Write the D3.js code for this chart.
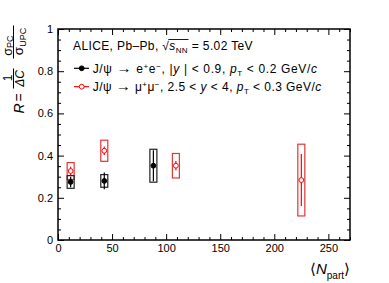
<!doctype html>
<html lang="en">
<head>
    <meta charset="utf-8"/>
    <title>R vs Npart</title>
    <style>
        body { margin: 0; background: #fff; }
        svg { display: block; font-family: "Liberation Sans", Arial, sans-serif; }
    </style>
</head>
<body>
    <svg id="chart" width="389" height="283"></svg>
    <script src="https://cdn.jsdelivr.net/npm/d3@7/dist/d3.min.js"></script>
    <script>
        // J/psi -> e+e- (midrapidity)
        const npartEE = [11.7, 42.8, 88.2];
        const rEE = [0.275, 0.28, 0.352];
        const statEE = [0.025, 0.04, 0.073];
        const systEE = [0.03, 0.03, 0.078];

        // J/psi -> mu+mu- (forward)
        const npartMM = [11.7, 42.8, 109, 225];
        const rMM = [0.327, 0.423, 0.352, 0.284];
        const statMM = [0.02, 0.02, 0.022, 0.123];
        const systMM = [0.04, 0.05, 0.058, 0.17];

        const xTicks = [0, 50, 100, 150, 200, 250];
        const xTickLabels = ["0", "50", "100", "150", "200", "250"];
        const yTicks = [0, 0.2, 0.4, 0.6, 0.8, 1];
        const yTickLabels = ["0", "0.2", "0.4", "0.6", "0.8", "1"];

        const svg = d3.select("#chart");
        const x = d3.scaleLinear().domain([0, 270]).range([58, 350]);
        const y = d3.scaleLinear().domain([0, 1]).range([240, 29]);

        const RED = "#f00";
        const REDBOX = "#e23636";
        const BLACKBOX = "#222";

        // --- axes (ticks pointing inward, ROOT style) ---
        function xMinor() { return d3.range(0, 271, 10).filter(d => d % 50 !== 0); }
        function yMinor() { return d3.range(0, 1.0001, 0.05).filter(d => Math.abs(d * 5 - Math.round(d * 5)) > 1e-6); }

        const axisFont = 11;
        svg.append("g").attr("transform", `translate(0,${y(0)})`)
            .call(d3.axisBottom(x).tickValues(xTicks).tickSize(-6).tickPadding(4)
                .tickFormat((d, i) => xTickLabels[i]));
        svg.append("g").attr("transform", `translate(0,${y(0)})`)
            .call(d3.axisBottom(x).tickValues(xMinor()).tickSize(-3).tickFormat(""));
        svg.append("g").attr("transform", `translate(0,${y(1)})`)
            .call(d3.axisTop(x).tickValues(xTicks).tickSize(-6).tickFormat(""));
        svg.append("g").attr("transform", `translate(0,${y(1)})`)
            .call(d3.axisTop(x).tickValues(xMinor()).tickSize(-3).tickFormat(""));

        svg.append("g").attr("transform", `translate(${x(0)},0)`)
            .call(d3.axisLeft(y).tickValues(yTicks).tickSize(-6).tickPadding(5)
                .tickFormat((d, i) => yTickLabels[i]));
        svg.append("g").attr("transform", `translate(${x(0)},0)`)
            .call(d3.axisLeft(y).tickValues(yMinor()).tickSize(-3).tickFormat(""));
        svg.append("g").attr("transform", `translate(${x(270)},0)`)
            .call(d3.axisRight(y).tickValues(yTicks).tickSize(-6).tickFormat(""));
        svg.append("g").attr("transform", `translate(${x(270)},0)`)
            .call(d3.axisRight(y).tickValues(yMinor()).tickSize(-3).tickFormat(""));

        svg.selectAll(".domain").remove();
        svg.selectAll(".tick line").attr("stroke", "#000").attr("stroke-width", 1);
        svg.selectAll(".tick text").attr("font-family", "Liberation Sans, Arial, sans-serif")
            .attr("font-size", axisFont).attr("fill", "#000");

        svg.append("rect")
            .attr("x", x(0)).attr("y", y(1))
            .attr("width", x(270) - x(0)).attr("height", y(0) - y(1))
            .attr("fill", "none").attr("stroke", "#000").attr("stroke-width", 1.5);

        // --- data ---
        const boxHalf = 3.5;
        function drawSeries(npart, r, stat, syst, boxColor, lineColor, open) {
            const g = svg.append("g");
            const data = npart.map((n, i) => ({n, r: r[i], stat: stat[i], syst: syst[i]}));
            g.selectAll("rect.syst").data(data).enter().append("rect")
                .attr("x", d => x(d.n) - boxHalf)
                .attr("y", d => y(d.r + d.syst))
                .attr("width", boxHalf * 2)
                .attr("height", d => y(d.r - d.syst) - y(d.r + d.syst))
                .attr("fill", "none").attr("stroke", boxColor).attr("stroke-width", 1.2);
            g.selectAll("line.stat").data(data).enter().append("line")
                .attr("x1", d => x(d.n)).attr("x2", d => x(d.n))
                .attr("y1", d => y(d.r + d.stat)).attr("y2", d => y(d.r - d.stat))
                .attr("stroke", lineColor).attr("stroke-width", 1.2);
            g.selectAll("circle").data(data).enter().append("circle")
                .attr("cx", d => x(d.n)).attr("cy", d => y(d.r))
                .attr("r", 2.4)
                .attr("fill", open ? "#fff" : lineColor)
                .attr("stroke", lineColor).attr("stroke-width", 1);
        }
        drawSeries(npartMM, rMM, statMM, systMM, REDBOX, RED, true);
        drawSeries(npartEE, rEE, statEE, systEE, BLACKBOX, "#000", false);

        // --- helper for rich text ---
        function rich(parent, xPos, yPos, parts, size, anchor) {
            const t = parent.append("text").attr("x", xPos).attr("y", yPos)
                .attr("font-size", size).attr("fill", "#000")
                .attr("text-anchor", anchor || "start");
            let shift = 0;
            parts.forEach(p => {
                const s = p.s || 0;
                const ts = t.append("tspan").text(p.t);
                if (s !== shift) ts.attr("dy", s - shift);
                shift = s;
                if (p.i) ts.attr("font-style", "italic");
                if (p.f) ts.attr("font-size", p.f);
            });
            return t;
        }
        // stretch letter spacing so a line spans the given width
        function fitWidth(t, width) {
            const node = t.node();
            const len = node.getComputedTextLength();
            const n = node.textContent.length;
            t.attr("letter-spacing", ((width - len) / n).toFixed(3));
        }

        // --- legend ---
        const lx = 73;
        const head = rich(svg, lx, 50, [
            {t: "ALICE, Pb\u2013Pb, "},
            {t: "\u221A"},
            {t: "s", i: true},
            {t: "NN", f: 8, s: 3},
            {t: " = 5.02 TeV", s: 0}
        ], 12);
        fitWidth(head, 180);
        // overline for the square root
        {
            const node = head.node();
            const txt = node.textContent;
            const i0 = txt.indexOf("\u221A");
            const a = node.getEndPositionOfChar(i0).x - 1;
            const b = node.getEndPositionOfChar(i0 + 3).x + 0.5;
            svg.append("line").attr("x1", a).attr("x2", b)
                .attr("y1", 39.5).attr("y2", 39.5)
                .attr("stroke", "#000").attr("stroke-width", 0.9);
        }

        const rows = [
            {y: 68.3, color: "#000", open: false, w: 225, parts: [
                {t: "J/\u03C8 "}, {t: "\u2192", f: 15}, {t: " e"}, {t: "+", f: 8, s: -4}, {t: "e", s: 0}, {t: "\u2212", f: 8, s: -4},
                {t: ", |", s: 0}, {t: "y", i: true}, {t: " | < 0.9, "}, {t: "p", i: true},
                {t: "T", f: 8, s: 3}, {t: " < 0.2 GeV/", s: 0}, {t: "c", i: true}
            ]},
            {y: 86.7, color: RED, open: true, w: 229, parts: [
                {t: "J/\u03C8 "}, {t: "\u2192", f: 15}, {t: " \u03BC"}, {t: "+", f: 8, s: -4}, {t: "\u03BC", s: 0}, {t: "\u2212", f: 8, s: -4},
                {t: ", 2.5 < ", s: 0}, {t: "y", i: true}, {t: " < 4, "}, {t: "p", i: true},
                {t: "T", f: 8, s: 3}, {t: " < 0.3 GeV/", s: 0}, {t: "c", i: true}
            ]}
        ];
        rows.forEach(row => {
            svg.append("line").attr("x1", lx + 1).attr("x2", lx + 16)
                .attr("y1", row.y).attr("y2", row.y)
                .attr("stroke", row.color).attr("stroke-width", 1.2);
            svg.append("circle").attr("cx", lx + 8.7).attr("cy", row.y).attr("r", 2.4)
                .attr("fill", row.open ? "#fff" : row.color)
                .attr("stroke", row.color).attr("stroke-width", 1);
            const t = rich(svg, lx + 19.7, row.y + 4.3, row.parts, 12);
            fitWidth(t, row.w);
        });

        // --- axis titles ---
        rich(svg, 350, 273.5, [
            {t: "\u27E8"}, {t: "N", i: true}, {t: "part", f: 10, s: 5}, {t: "\u27E9", s: 0}
        ], 15, "end");

        // y title: R = (1/ΔC) σPC/σUPC, rotated
        const yt = svg.append("g").attr("transform", "translate(23.5,113.5) rotate(-90)");
        rich(yt, 0, 0, [{t: "R", i: true}], 14);
        rich(yt, 12, 0, [{t: "="}], 14);
        // first fraction
        yt.append("line").attr("x1", 25).attr("x2", 45).attr("y1", -10).attr("y2", -10)
            .attr("stroke", "#000").attr("stroke-width", 1);
        rich(yt, 35.5, -12, [{t: "1"}], 12, "middle");
        rich(yt, 35, 0, [{t: "\u0394C", i: true}], 12, "middle");
        // second fraction
        yt.append("line").attr("x1", 55).attr("x2", 88).attr("y1", -10).attr("y2", -10)
            .attr("stroke", "#000").attr("stroke-width", 1);
        rich(yt, 68, -12, [{t: "\u03C3"}, {t: "PC", f: 9, s: 1}], 12.5, "middle");
        rich(yt, 72, -1, [{t: "\u03C3"}, {t: "UPC", f: 9, s: 3}], 13.5, "middle");
    </script>
</body>
</html>
